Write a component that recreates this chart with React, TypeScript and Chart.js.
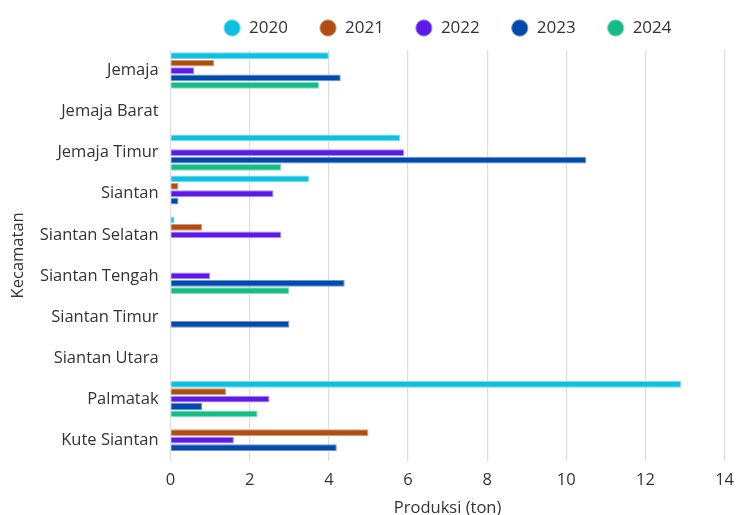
import { useEffect, useRef } from 'react';
import { Chart, registerables } from 'chart.js';

Chart.register(...registerables);

const kecamatan = [
  'Jemaja',
  'Jemaja Barat',
  'Jemaja Timur',
  'Siantan',
  'Siantan Selatan',
  'Siantan Tengah',
  'Siantan Timur',
  'Siantan Utara',
  'Palmatak',
  'Kute Siantan',
];

const years = ['2020', '2021', '2022', '2023', '2024'];

const prod2020 = [4.0, null, 5.8, 3.5, 0.1, null, null, null, 12.9, null];
const prod2021 = [1.1, null, null, 0.2, 0.8, null, null, null, 1.4, 5.0];
const prod2022 = [0.6, null, 5.9, 2.6, 2.8, 1.0, null, null, 2.5, 1.6];
const prod2023 = [4.3, null, 10.5, 0.2, null, 4.4, 3.0, null, 0.8, 4.2];
const prod2024 = [3.75, null, 2.8, null, null, 3.0, null, null, 2.2, null];

const colors = ['#0bc0e0', '#b04e12', '#5b1ae8', '#004aad', '#13bd85'];
const borders = ['#7fdcee', '#d49a78', '#a98af2', '#6f93d2', '#8adcbf'];

const FONT = '"Open Sans", "Noto Sans", sans-serif';

// legend sits higher and takes a fixed height, like the original
const legendHeight = {
  id: 'legendHeight',
  beforeInit(chart: any) {
    const fit = chart.legend.fit;
    chart.legend.fit = function () {
      fit.bind(chart.legend)();
      this.height = 62;
    };
  },
};

export default function App() {
  const chartRef = useRef<HTMLCanvasElement>(null);
  const chartInstance = useRef<Chart | null>(null);

  useEffect(() => {
    document.body.style.margin = '0';
    if (!chartRef.current) return;

    const series = [prod2020, prod2021, prod2022, prod2023, prod2024];

    if (chartInstance.current) {
      chartInstance.current.destroy();
    }

    const ctx = chartRef.current.getContext('2d');
    if (ctx) {
      chartInstance.current = new Chart(ctx, {
        type: 'bar',
        data: {
          labels: kecamatan,
          datasets: years.map((year, i) => ({
            label: year,
            data: series[i],
            backgroundColor: colors[i],
            borderColor: borders[i],
            borderWidth: 1,
            categoryPercentage: 0.9,
            barPercentage: 0.92,
          })),
        },
        options: {
          indexAxis: 'y',
          animation: false,
          responsive: true,
          maintainAspectRatio: false,
          layout: {
            padding: { left: 8, right: 1, top: -12, bottom: -2 },
          },
          scales: {
            x: {
              min: 0,
              max: 14,
              ticks: {
                stepSize: 2,
                color: '#333',
                font: { family: FONT, size: 16.5 },
                padding: 10,
              },
              grid: {
                color: '#dddddd',
                lineWidth: 1.2,
                drawTicks: false,
              },
              border: { display: false },
              title: {
                display: true,
                text: 'Produksi (ton)',
                color: '#333',
                font: { family: FONT, size: 16.5, lineHeight: 1 },
                padding: { top: 0, bottom: 0 },
              },
            },
            y: {
              grid: { display: false, drawTicks: false },
              border: { display: false },
              ticks: {
                color: '#333',
                font: { family: FONT, size: 16.5 },
                padding: 12,
              },
              title: {
                display: true,
                text: 'Kecamatan',
                color: '#333',
                font: { family: FONT, size: 16.5 },
                padding: { top: 0, bottom: 0 },
              },
            },
          },
          plugins: {
            legend: {
              position: 'top',
              fullSize: false,
              labels: {
                usePointStyle: true,
                pointStyle: 'circle',
                boxWidth: 17,
                boxHeight: 11.5,
                padding: 31.5,
                color: '#333',
                font: { family: FONT, size: 17 },
              },
            },
            tooltip: { enabled: false },
          },
        },
        plugins: [legendHeight],
      });
    }

    return () => {
      if (chartInstance.current) {
        chartInstance.current.destroy();
        chartInstance.current = null;
      }
    };
  }, []);

  return (
    <div style={{ width: 744, height: 515, position: 'relative' }}>
      <canvas ref={chartRef}></canvas>
    </div>
  );
}
